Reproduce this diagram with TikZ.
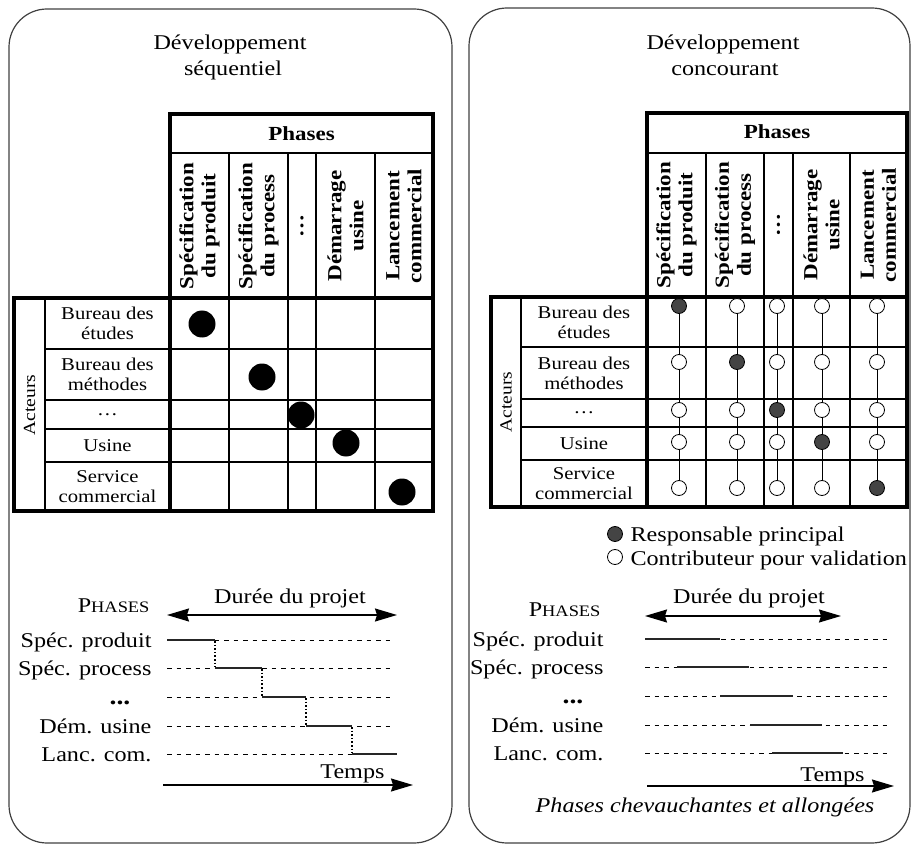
\documentclass[tikz,border=0pt]{standalone}
\usepackage{fontspec}
\setmainfont{Liberation Serif}[FakeStretch=1.15]
\usetikzlibrary{arrows.meta}
\definecolor{dk}{HTML}{444444}
\tikzset{
  panel/.style={draw=black!75, line width=1.2pt, rounded corners=38pt},
  heavy/.style={line width=3.6pt},
  midline/.style={line width=2.6pt},
  fine/.style={line width=1.1pt},
  title/.style={font=\fontsize{21}{26}\selectfont, anchor=base},
  lbl/.style={font=\fontsize{18}{20}\selectfont, align=center},
  colh/.style={rotate=90, font=\bfseries\fontsize{20}{22}\selectfont, align=center},
  bigdot/.style={circle, fill=black, minimum size=27pt, inner sep=0pt},
  resp/.style={circle, draw=black, line width=0.8pt, fill=dk, minimum size=15pt, inner sep=0pt},
  contrib/.style={circle, draw=black, line width=0.8pt, fill=white, minimum size=15pt, inner sep=0pt},
  glbl/.style={font=\fontsize{21}{24}\selectfont, anchor=base east},
  dline/.style={dash pattern=on 4.5pt off 5pt, line width=0.8pt},
  bar/.style={line width=2pt, black!85},
  dotv/.style={dotted, line width=1.6pt},
  bigarrow/.style={line width=1.4pt, -{Stealth[length=22pt,width=13pt,inset=2pt]}},
  dblarrow/.style={line width=1.4pt, {Stealth[length=22pt,width=13pt,inset=2pt]}-{Stealth[length=22pt,width=13pt,inset=2pt]}},
}
\newcommand{\smallcapsP}{P{\fontsize{16}{18}\selectfont HASES}}
\begin{document}
\begin{tikzpicture}[x=1pt,y=-1pt]
\useasboundingbox (0,0) rectangle (911,845);
% panels
\draw[panel] (9,9) rectangle (452,843);
\draw[panel] (469,8) rectangle (910,843);
% titles
\node[title] (t1a) at (230,50) {Développement};
\node[title] (t1b) at (233,76) {séquentiel};
\node[title] (t2a) at (723,50) {Développement};
\node[title] (t2b) at (725,76) {concourant};

% ================= LEFT TABLE =================
\draw[fine] (45,298) -- (45,511);
\foreach \y in {349,400,429,462} \draw[fine] (45,\y) -- (433,\y);
\foreach \x in {229,288,316,375} \draw[fine] (\x,153) -- (\x,511);
\draw[midline] (170,153) -- (433,153);
\draw[heavy] (170,114) rectangle (433,298);
\draw[heavy] (14,298) rectangle (433,511);
\draw[heavy] (170,298) -- (170,511);
\node[font=\bfseries\fontsize{20}{22}\selectfont] (lph) at (301.5,134) {Phases};
\node[colh] (lc1) at (199.5,226) {Spécification\\du produit};
\node[colh] (lc2) at (258.5,226) {Spécification\\du process};
\node[colh] (lc3) at (302,226) {\dots};
\node[colh] (lc4) at (345.5,226) {Démarrage\\usine};
\node[colh] (lc5) at (404,226) {Lancement\\commercial};
\node[rotate=90, font=\fontsize{17}{20}\selectfont] (lact) at (29.5,405) {Acteurs};
\node[lbl] (lr1) at (107.5,323.5) {Bureau des\\études};
\node[lbl] (lr2) at (107.5,374.5) {Bureau des\\méthodes};
\node[lbl] (lr3) at (107.5,414.5) {\dots};
\node[lbl] (lr4) at (107.5,445.5) {Usine};
\node[lbl] (lr5) at (107.5,486.5) {Service\\commercial};
\node[bigdot] (ld1) at (202,324) {};
\node[bigdot] (ld2) at (262,377) {};
\node[bigdot] (ld3) at (301,415) {};
\node[bigdot] (ld4) at (346,443) {};
\node[bigdot] (ld5) at (402,492) {};

% ================= RIGHT TABLE =================
\draw[fine] (521,297) -- (521,507);
\foreach \y in {347,399,427,460} \draw[fine] (521,\y) -- (907,\y);
\foreach \x in {706,764,793,850} \draw[fine] (\x,153) -- (\x,507);
\draw[midline] (647,153) -- (907,153);
\draw[heavy] (647,113) rectangle (907,297);
\draw[heavy] (491,297) rectangle (907,507);
\draw[heavy] (647,297) -- (647,507);
\node[font=\bfseries\fontsize{20}{22}\selectfont] (rph) at (777,132) {Phases};
\node[colh] (rc1) at (676.5,225) {Spécification\\du produit};
\node[colh] (rc2) at (735,225) {Spécification\\du process};
\node[colh] (rc3) at (778.5,225) {\dots};
\node[colh] (rc4) at (821.5,225) {Démarrage\\usine};
\node[colh] (rc5) at (878.5,225) {Lancement\\commercial};
\node[rotate=90, font=\fontsize{17}{20}\selectfont] (ract) at (506,402) {Acteurs};
\node[lbl] (rr1) at (584,322) {Bureau des\\études};
\node[lbl] (rr2) at (584,373) {Bureau des\\méthodes};
\node[lbl] (rr3) at (584,413) {\dots};
\node[lbl] (rr4) at (584,443.5) {Usine};
\node[lbl] (rr5) at (584,483.5) {Service\\commercial};
% circles
\foreach \c/\x in {1/679,2/737,3/777,4/822,5/877}{
  \foreach \r/\y in {1/306,2/362,3/410,4/442,5/488}{
    \ifnum\r=\c
      \node[resp] (p\r\c) at (\x,\y) {};
    \else
      \node[contrib] (p\r\c) at (\x,\y) {};
    \fi
  }
  \draw[line width=0.9pt] (p1\c) -- (p2\c) -- (p3\c) -- (p4\c) -- (p5\c);
}
% legend
\node[resp] (lgr) at (615,534) {};
\node[contrib] (lgc) at (615,557) {};
\node[font=\fontsize{21}{24}\selectfont, anchor=base west] (lgrt) at (627,541) {Responsable principal};
\node[font=\fontsize{21}{24}\selectfont, anchor=base west] (lgct) at (627,565) {Contributeur pour validation};

% ================= LEFT GANTT =================
\node[font=\fontsize{21}{24}\selectfont, anchor=base east] (lphs) at (153,612) {\smallcapsP};
\node[font=\fontsize{21}{24}\selectfont, anchor=base] (ldur) at (290,603) {Durée du projet};
\coordinate (la1) at (167,615);
\coordinate (la2) at (397,615);
\draw[dblarrow] (la1) -- (la2);
\node[glbl] (lg1) at (155,647) {Spéc. produit};
\node[glbl] (lg2) at (155,675) {Spéc. process};
\node[font=\bfseries\fontsize{24}{26}\selectfont, anchor=base] (lg3) at (120,704) {...};
\node[glbl] (lg4) at (155,733) {Dém. usine};
\node[glbl] (lg5) at (155,761) {Lanc. com.};
\foreach \y in {640,668,697,726,754} \draw[dline] (167,\y) -- (392,\y);
\draw[bar] (167,640) -- (215,640);
\draw[bar] (215,668) -- (262,668);
\draw[bar] (262,697) -- (306,697);
\draw[bar] (306,726) -- (352,726);
\draw[bar] (352,754) -- (397,754);
\draw[dotv] (215,641) -- (215,667);
\draw[dotv] (262,669) -- (262,696);
\draw[dotv] (306,698) -- (306,725);
\draw[dotv] (352,727) -- (352,753);
\coordinate (lt1) at (163,785);
\coordinate (lt2) at (413,785);
\draw[bigarrow] (lt1) -- (lt2);
\node[font=\fontsize{21}{24}\selectfont, anchor=base east] (ltemps) at (388,778) {Temps};

% ================= RIGHT GANTT =================
\node[font=\fontsize{21}{24}\selectfont, anchor=base east] (rphs) at (604,616) {\smallcapsP};
\node[font=\fontsize{21}{24}\selectfont, anchor=base] (rdur) at (749,603) {Durée du projet};
\coordinate (ra1) at (645,616);
\coordinate (ra2) at (841,616);
\draw[dblarrow] (ra1) -- (ra2);
\node[glbl] (rg1) at (607,646) {Spéc. produit};
\node[glbl] (rg2) at (607,674) {Spéc. process};
\node[font=\bfseries\fontsize{24}{26}\selectfont, anchor=base] (rg3) at (573,703) {...};
\node[glbl] (rg4) at (607,732) {Dém. usine};
\node[glbl] (rg5) at (607,760) {Lanc. com.};
\foreach \y in {639,667,696,725,753} \draw[dline] (645,\y) -- (890,\y);
\draw[bar] (645,639) -- (720,639);
\draw[bar] (677,667) -- (749,667);
\draw[bar] (720,696) -- (793,696);
\draw[bar] (750,725) -- (822,725);
\draw[bar] (772,753) -- (843,753);
\coordinate (rt1) at (647,786);
\coordinate (rt2) at (894,786);
\draw[bigarrow] (rt1) -- (rt2);
\node[font=\fontsize{21}{24}\selectfont, anchor=base east] (rtemps) at (868,781) {Temps};
\node[font=\itshape\fontsize{21}{24}\selectfont, anchor=base] (rcap) at (705,812) {Phases chevauchantes et allongées};
\end{tikzpicture}
\end{document}
